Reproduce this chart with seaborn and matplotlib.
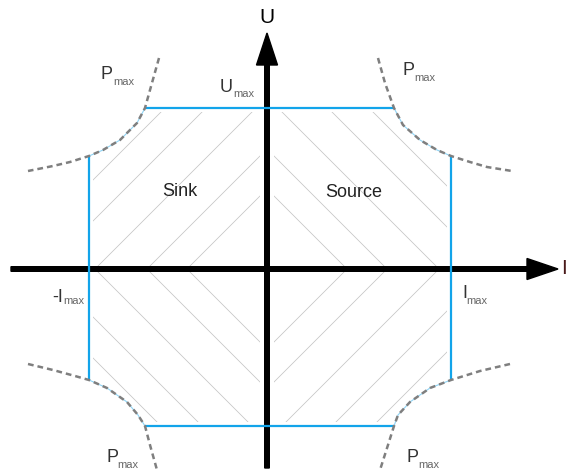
import numpy as np
import pandas as pd
import matplotlib
matplotlib.use('Agg')
import matplotlib.pyplot as plt
import seaborn as sns
from matplotlib.patches import Rectangle

sns.set_theme(style='white')
plt.rcParams['font.family'] = ['Liberation Sans', 'DejaVu Sans']

# ─────────────────────────────────────────────
# data — diagram units (origin = crossing of the U and I axes)
# ─────────────────────────────────────────────
I_MAX, I_MIN = 184, -178
U_MAX, U_MIN = 161, -157

# blue limit lines (Umax / Imax), each one a start and an end point
EDGE_NAME = ['top', 'top', 'right', 'right', 'bottom', 'bottom', 'left', 'left']
EDGE_I    = [-122, 127, I_MAX, I_MAX, 127, -122, I_MIN, I_MIN]
EDGE_U    = [U_MAX, U_MAX, 113, -111, U_MIN, U_MIN, -111, 113]

# Pmax curves, one per quadrant
PMAX_TL_I = [-108, -117, -122, -130, -147, -164, -178, -197, -214, -239]
PMAX_TL_U = [211, 179, 161, 146, 129, 119, 113, 107, 103, 98]
PMAX_TR_I = [111, 118, 127, 136, 153, 170, 184, 203, 220, 245]
PMAX_TR_U = [211, 186, 161, 144, 129, 119, 113, 107, 102, 98]
PMAX_BL_I = [-239, -214, -192, -178, -160, -140, -129, -122, -117, -110]
PMAX_BL_U = [-95, -101, -107, -111, -119, -133, -146, -157, -176, -201]
PMAX_BR_I = [243, 213, 184, 163, 143, 131, 127, 121, 113]
PMAX_BR_U = [-95, -102, -111, -119, -133, -146, -157, -176, -201]

# hatch line offsets (|I| + |U|) in every quadrant
HATCH_D = [80, 120, 172, 222, 263]

BLUE      = '#12a4ea'
BLUE_THIN = '#8fd3f4'
DASH_GREY = '#7f7f7f'
HATCH_COL = '#c4c4c4'

edges = pd.DataFrame({'I': EDGE_I, 'U': EDGE_U, 'part': EDGE_NAME})

curves = pd.concat([
    pd.DataFrame({'I': PMAX_TL_I, 'U': PMAX_TL_U, 'part': 'tl'}),
    pd.DataFrame({'I': PMAX_TR_I, 'U': PMAX_TR_U, 'part': 'tr'}),
    pd.DataFrame({'I': PMAX_BL_I, 'U': PMAX_BL_U, 'part': 'bl'}),
    pd.DataFrame({'I': PMAX_BR_I, 'U': PMAX_BR_U, 'part': 'br'}),
], ignore_index=True)
inside = curves['I'].between(I_MIN, I_MAX) & curves['U'].between(U_MIN, U_MAX)

# ─────────────────────────────────────────────
# figure
# ─────────────────────────────────────────────
fig = plt.figure(figsize=(5.66, 4.74), dpi=100)
ax = fig.add_axes([0, 0, 1, 1])
ax.set_xlim(-267, 299)
ax.set_ylim(-205, 269)
ax.set_aspect('equal')
ax.axis('off')

# hatching, quadrant by quadrant
for sx, sy in [(1, 1), (-1, 1), (-1, -1), (1, -1)]:
    x0 = 7 if sx > 0 else I_MIN + 4
    x1 = I_MAX - 4 if sx > 0 else -7
    y0 = 0 if sy > 0 else U_MIN + 4
    y1 = U_MAX - 4 if sy > 0 else 0
    clip = Rectangle((x0, y0), x1 - x0, y1 - y0, transform=ax.transData,
                     fill=False, edgecolor='none')
    ax.add_patch(clip)
    for d in HATCH_D:
        ln, = ax.plot([sx * d, 0], [0, sy * d], color=HATCH_COL, lw=0.55, zorder=1)
        ln.set_clip_path(clip)

# axes with arrows
ax.arrow(-256, 0, 547, 0, width=4.6, head_width=21, head_length=31,
         length_includes_head=True, color='black', zorder=2)
ax.arrow(0, -199, 0, 435, width=4.6, head_width=21, head_length=32,
         length_includes_head=True, color='black', zorder=2)

# limit lines
sns.lineplot(data=edges, x='I', y='U', units='part', estimator=None, sort=False,
             color=BLUE, lw=1.6, ax=ax, zorder=3)
sns.lineplot(data=curves[inside], x='I', y='U', units='part', estimator=None,
             sort=False, color=BLUE_THIN, lw=0.8, ax=ax, zorder=3)
sns.lineplot(data=curves, x='I', y='U', units='part', estimator=None, sort=False,
             color=DASH_GREY, lw=1.8, linestyle=(0, (2.3, 1.6)), ax=ax, zorder=4)
ax.set_xlabel('')
ax.set_ylabel('')

# labels
big = dict(ha='left', va='baseline', color='#333333', fontsize=13, zorder=5)
sub = dict(ha='left', va='baseline', color='#666666', fontsize=8, zorder=5)


def label(x, y, main, dx, dy, small='max'):
    ax.text(x, y, main, **big)
    ax.text(x + dx, y + dy, small, **sub)


label(-166, 190, 'P', 12, -6)
label(135, 194, 'P', 12, -6)
label(-161, -193, 'P', 11, -6)
label(139, -193, 'P', 12, -6)
label(-47, 177, 'U', 13, -5)
label(-215, -33, '-I', 11, -2)
label(195, -29, 'I', 4, -6)

ax.text(-105, 73, 'Sink', ha='left', va='baseline', color='#222222', fontsize=13, zorder=5)
ax.text(58, 72, 'Source', ha='left', va='baseline', color='#222222', fontsize=13, zorder=5)

ax.text(0, 242, 'U', ha='center', va='bottom', color='black', fontsize=15, zorder=5)
ax.text(294, 0, 'I', ha='left', va='center', color='#4a1a1a', fontsize=15, zorder=5)

fig.savefig('out.png', dpi=100)
